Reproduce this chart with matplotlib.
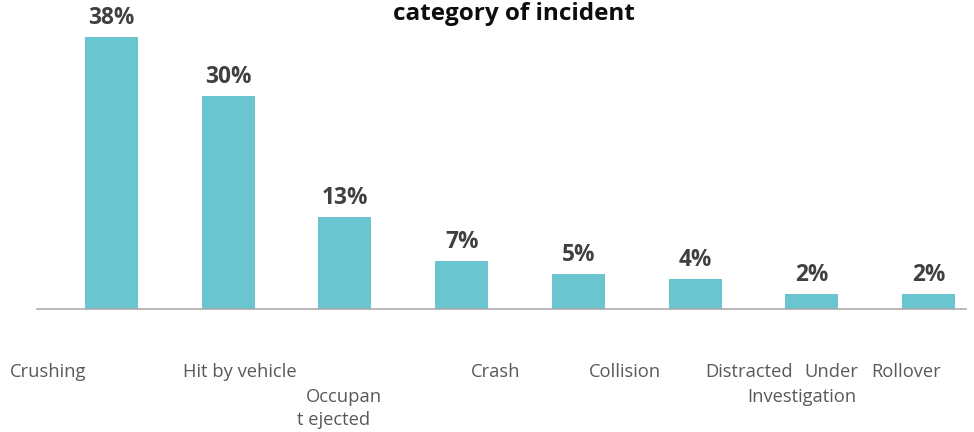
import matplotlib
matplotlib.use("Agg")
import matplotlib.pyplot as plt

plt.rcParams['font.family'] = ['Open Sans', 'DejaVu Sans']

# Share of incidents by category (%)
categories = ["Crushing", "Hit by vehicle", "Occupant ejected", "Crash",
              "Collision", "Distracted", "Under Investigation", "Rollover"]
shares = [38.0, 29.8, 12.9, 6.7, 4.9, 4.2, 2.1, 2.1]

# Category labels as they wrap under the axis: (lines, x centre px, row)
tick_lines = [
    (["Crushing"], [48], [0]),
    (["Hit by vehicle"], [240], [0]),
    (["Occupan", "t ejected"], [344, 334], [1, 2]),
    (["Crash"], [496], [0]),
    (["Collision"], [625], [0]),
    (["Distracted"], [749], [0]),
    (["Under", "Investigation"], [831, 802], [0, 1]),
    (["Rollover"], [906], [0]),
]

W, H = 974, 432
fig = plt.figure(figsize=(W / 100, H / 100), dpi=100)

x0, x1 = 37, 966
base_y = 309
ax = fig.add_axes([x0 / W, (H - base_y) / H, (x1 - x0) / W, base_y / H])

spacing = 116.7
xs = list(range(len(categories)))
ax.bar(xs, shares, width=0.454, color="#6BC5D0", zorder=2)
ax.set_xlim(-(111.5 - x0) / spacing, 7 + (x1 - 928.5) / spacing)
ax.set_ylim(0, base_y / 7.15)

for s in ["top", "right", "left"]:
    ax.spines[s].set_visible(False)
ax.spines["bottom"].set_color("#A6A6A6")
ax.spines["bottom"].set_linewidth(1.1)
ax.set_xticks([])
ax.set_yticks([])

label_offsets = [7, 7, 7, 7, 7, 7, 7, 7]
for x, v, off in zip(xs, shares, label_offsets):
    ax.annotate(f"{v:.0f}%", (x, v), xytext=(0, off * 0.72), textcoords="offset points",
                ha="center", va="bottom", fontsize=16.3, fontweight="bold",
                color="#404040", annotation_clip=False)

row_y = [372, 397, 420]
for lines, cx, rows in tick_lines:
    for txt, x, r in zip(lines, cx, rows):
        fig.text(x / W, 1 - row_y[r] / H, txt, ha="center", va="center",
                 fontsize=13.2, color="#595959")

fig.text(514 / W, 1 - 14 / H, "category of incident", ha="center", va="center",
         fontsize=17.5, fontweight="bold", color="#0D0D0D")

fig.savefig("out.png", dpi=100)
